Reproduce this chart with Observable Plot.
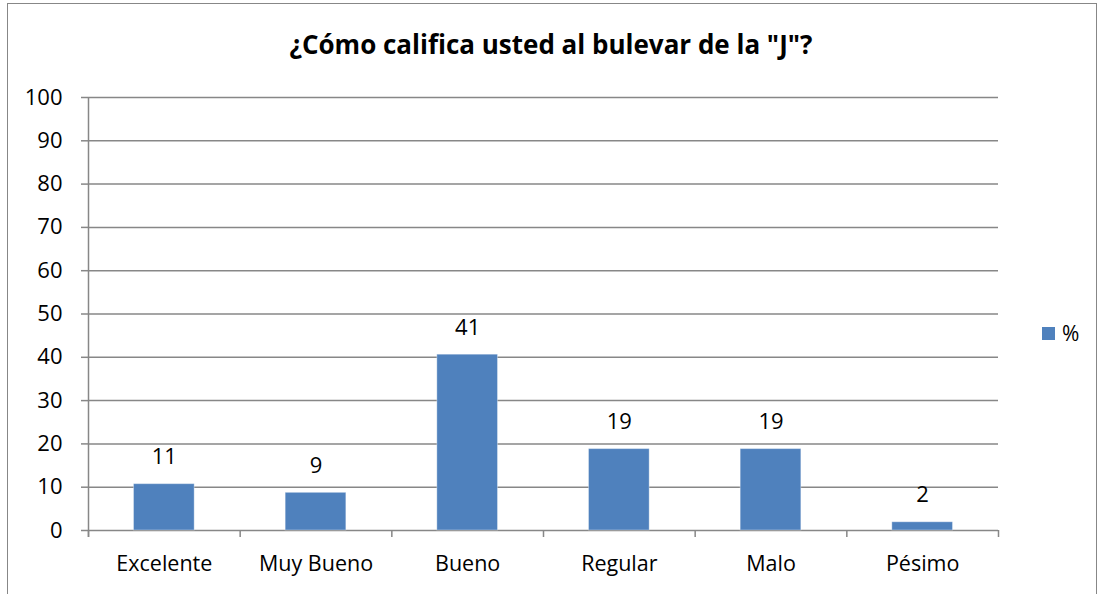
<!DOCTYPE html>
<html>
<head>
<meta charset="utf-8">
<script src="https://cdn.jsdelivr.net/npm/d3@7"></script>
<script src="https://cdn.jsdelivr.net/npm/@observablehq/plot@0.6"></script>
<style>
  html, body { margin: 0; padding: 0; background: #fff; }
  #wrap { position: relative; width: 1102px; height: 594px; font-family: "Open Sans", sans-serif; overflow: hidden; }
  #frame { position: absolute; left: 7px; top: 3px; width: 1090px; height: 600px; border: 1.5px solid #878787; box-sizing: border-box; }
  #title { position: absolute; left: 0; width: 1102px; top: 26px; text-align: center; font-weight: bold; font-size: 26px; line-height: 36px; color: #000; }
  #legend { position: absolute; left: 1042px; top: 318px; font-size: 21px; line-height: 30px; display: flex; align-items: center; }
  #legend .sw { width: 13px; height: 13px; background: #4F81BD; margin-right: 7px; }
  svg { position: absolute; left: 0; top: 0; }
</style>
</head>
<body>
<div id="wrap">
  <div id="frame"></div>
  <div id="chart"></div>
  <div id="title">¿Cómo califica usted al bulevar de la "J"?</div>
  <div id="legend"><div class="sw"></div><span>%</span></div>
</div>
<script>
const categories = ["Excelente", "Muy Bueno", "Bueno", "Regular", "Malo", "Pésimo"];
const values = [10.7, 8.7, 40.6, 18.8, 18.8, 1.9];
const labels = ["11", "9", "41", "19", "19", "2"];
const yTicks = [0, 10, 20, 30, 40, 50, 60, 70, 80, 90, 100];

const data = categories.map((c, i) => ({cat: c, i, value: values[i], label: labels[i]}));
const centers = categories.map((c, i) => i + 0.5);
const bounds = d3.range(categories.length + 1);
const gridColor = "#878787";

const chart = Plot.plot({
  width: 1102,
  height: 594,
  marginLeft: 88,
  marginRight: 104,
  marginTop: 97,
  marginBottom: 64,
  style: {fontFamily: "'Open Sans', sans-serif", fontSize: "21px", color: "#000", background: "transparent"},
  x: {type: "linear", domain: [0, categories.length]},
  y: {domain: [0, 100]},
  marks: [
    Plot.ruleY(yTicks, {stroke: gridColor, strokeWidth: 1.5}),
    Plot.ruleX([0], {stroke: gridColor, strokeWidth: 1.5, y1: 100, y2: 0, insetBottom: -7}),
    Plot.axisY({ticks: yTicks, tickSize: 7, tickPadding: 19, stroke: gridColor, strokeWidth: 1.5, fill: "#000", label: null, fontSize: 22}),
    Plot.axisX({ticks: bounds, tickSize: 7, tickFormat: () => "", stroke: gridColor, strokeWidth: 1.5, label: null}),
    Plot.axisX({ticks: centers, tickSize: 0, tickPadding: 25, tickFormat: d => categories[Math.floor(d)], fill: "#000", label: null, fontSize: 21.5}),
    Plot.rectY(data, {x1: d => d.i + 0.3, x2: d => d.i + 0.7, y1: 0, y2: "value", fill: "#4F81BD", stroke: "#ffffff", strokeOpacity: 0.35, strokeWidth: 1}),
    Plot.text(data, {x: d => d.i + 0.5, y: "value", text: "label", dy: -27, fill: "#000", fontSize: 22})
  ]
});
document.getElementById("chart").appendChild(chart);
</script>
</body>
</html>
